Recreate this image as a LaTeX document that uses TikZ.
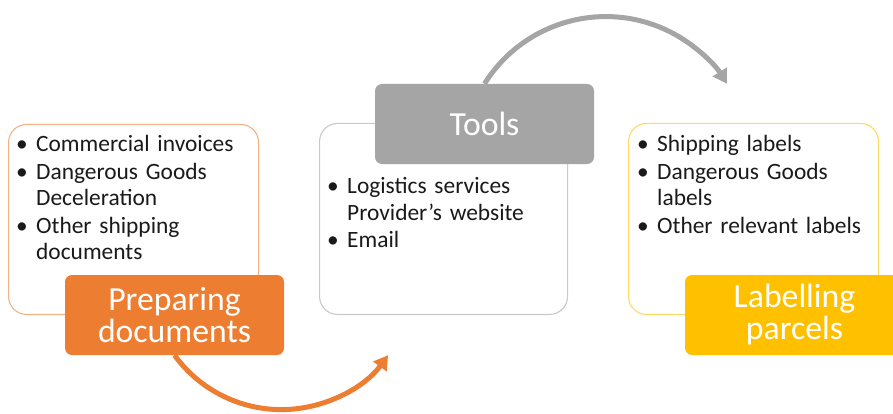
\documentclass[tikz,border=0pt]{standalone}
\usepackage{fontspec}
\setmainfont{Carlito}
\usetikzlibrary{arrows.meta}

\definecolor{prepfill}{HTML}{ED7D31}
\definecolor{prepline}{HTML}{F4B183}
\definecolor{toolfill}{HTML}{A5A5A5}
\definecolor{toolline}{HTML}{C9C9C9}
\definecolor{labfill}{HTML}{FFC000}
\definecolor{labline}{HTML}{FFD966}
\definecolor{listtext}{HTML}{1A1A1A}

% bullet item, and a wrapped line aligned under the item text
\newcommand\bulletitem[1]{\par\vspace{1.5pt}\noindent\makebox[20pt][l]{•}#1}
\newcommand\moreline[1]{\par\noindent\hspace*{20pt}#1}

\tikzset{
  outbox/.style={draw, line width=1.1pt, rounded corners=18pt, fill=white,
    minimum width=250pt, minimum height=190pt, anchor=south west, inner sep=0pt},
  stagebox/.style={rounded corners=7pt, minimum width=219pt, minimum height=80pt,
    inner sep=0pt, text=white, align=center,
    font=\fontsize{33.7}{32}\selectfont},
  listbox/.style={anchor=north west, inner sep=0pt, text width=240pt, text=listtext,
    font=\fontsize{23.4}{26.2}\selectfont\setlength{\parskip}{0pt}},
  flowarrow/.style={line width=5pt, -{Triangle[length=14pt,width=16pt]}}
}

\begin{document}
\begin{tikzpicture}[x=1pt,y=1pt]
  \useasboundingbox (0,0) rectangle (893,413);
  % outlined detail boxes
  \node[outbox, draw=prepline] (docsbox) at (8,98) {};
  \node[outbox, draw=toolline, minimum width=248pt, minimum height=191pt] (toolsbox) at (319,98) {};
  \node[outbox, draw=labline, minimum height=191pt] (labelbox) at (628,98) {};

  % bullet lists
  \node[listbox] (docslist) at (16,289.5) {%
    \bulletitem{Commercial invoices}
    \bulletitem{Dangerous Goods}
    \moreline{Deceleration}
    \bulletitem{Other shipping}
    \moreline{documents}};
  \node[listbox] (toolslist) at (327,247) {%
    \bulletitem{Logistics services}
    \moreline{Provider’s website}
    \bulletitem{Email}};
  \node[listbox] (labellist) at (637,289.5) {%
    \bulletitem{Shipping labels}
    \bulletitem{Dangerous Goods}
    \moreline{labels}
    \bulletitem{Other relevant labels}};

  % stage headers
  \node[stagebox, fill=prepfill] (prep) at (174.5,98) {Preparing\\documents};
  \node[stagebox, fill=toolfill] (tools) at (484.5,289) {Tools};
  \node[stagebox, fill=labfill] (label) at (794.5,98) {Labelling\\parcels};

  % curved flow arrows
  \draw[flowarrow, draw=prepfill]
    (prep.south) arc[start angle=216, end angle=324, radius=132pt] coordinate (prepend);
  \draw[flowarrow, draw=toolfill]
    (tools.north) arc[start angle=148, end angle=32, radius=143pt] coordinate (toolend);
\end{tikzpicture}
\end{document}
